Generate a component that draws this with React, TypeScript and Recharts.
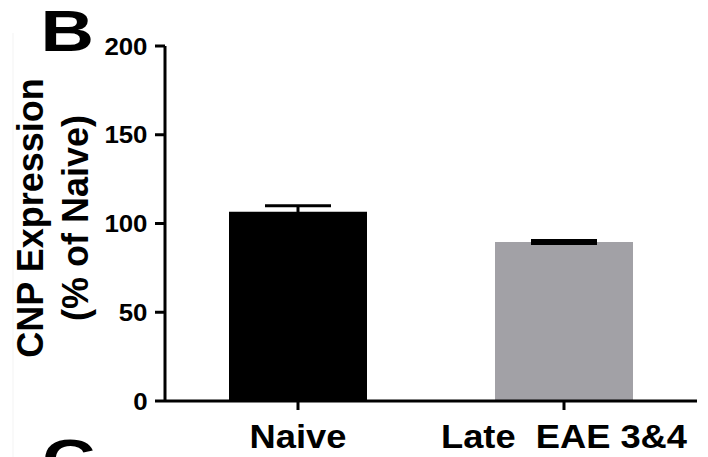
import React from 'react';
import { BarChart, Bar, XAxis, YAxis, ErrorBar, Cell } from 'recharts';

const categories = ['Naive', 'Late  EAE 3&4'];
const meanValues = [106.6, 89.6];
const semValues = [3.4, 0.8];
const barColors = ['#000000', '#a2a1a6'];
const yTicks = [0, 50, 100, 150, 200];

const data = categories.map((c, i) => ({ name: c, value: meanValues[i], err: semValues[i] }));

const FONT = '"Liberation Sans", Arial, Helvetica, sans-serif';

const YTick = (props: any) => {
  const { x, y, payload } = props;
  return (
    <g transform={`translate(${x - 1.5},${y + 8.5}) scale(1.1,1)`}>
      <text x={0} y={0} textAnchor="end" fontFamily={FONT} fontWeight="bold" fontSize={23.5} fill="#000">
        {payload.value}
      </text>
    </g>
  );
};

const XTick = (props: any) => {
  const { x, payload } = props;
  return (
    <g transform={`translate(${x},448) scale(1.1,1)`}>
      <text x={0} y={0} textAnchor="middle" fontFamily={FONT} fontWeight="bold" fontSize={33} fill="#000" style={{ whiteSpace: 'pre' }} xmlSpace="preserve">
        {payload.value}
      </text>
    </g>
  );
};

export default function App() {
  return (
    <div style={{ position: 'fixed', left: 0, top: 0, width: 708, height: 457, background: '#fff' }}>
      <BarChart width={708} height={457} data={data} margin={{ top: 46, right: 11, left: 0, bottom: 0 }}>
        <XAxis
          dataKey="name"
          height={56}
          axisLine={{ stroke: '#000', strokeWidth: 3 }}
          tickLine={{ stroke: '#000', strokeWidth: 3 }}
          tickSize={9}
          tick={<XTick />}
          interval={0}
        />
        <YAxis
          width={165}
          domain={[0, 200]}
          ticks={yTicks}
          allowDataOverflow
          axisLine={{ stroke: '#000', strokeWidth: 3 }}
          tickLine={{ stroke: '#000', strokeWidth: 3 }}
          tickSize={10}
          tickMargin={6}
          tick={<YTick />}
        />
        <Bar dataKey="value" barSize={138} isAnimationActive={false}>
          {data.map((d, i) => (
            <Cell key={d.name} fill={barColors[i]} />
          ))}
          <ErrorBar dataKey="err" width={33} stroke="#000" strokeWidth={3} direction="y" />
        </Bar>
      </BarChart>
      <svg width={708} height={457} style={{ position: 'absolute', left: 0, top: 0, pointerEvents: 'none' }}>
        <line x1={13} y1={33} x2={13} y2={457} stroke="#f3f3f3" strokeWidth={1} />
        <g transform="translate(40.6,51) scale(1.3,1)">
          <text x={0} y={0} fontFamily={FONT} fontWeight="bold" fontSize={57} fill="#000">B</text>
        </g>
        <g transform="translate(42,480) scale(1.3,1)">
          <text x={0} y={0} fontFamily={FONT} fontWeight="bold" fontSize={57} fill="#000">C</text>
        </g>
        <text transform="rotate(-90,43,218)" x={43} y={218} textAnchor="middle" fontFamily={FONT} fontWeight="bold" fontSize={36} fill="#000">
          CNP Expression
        </text>
        <text transform="rotate(-90,88,218)" x={88} y={218} textAnchor="middle" fontFamily={FONT} fontWeight="bold" fontSize={36} fill="#000">
          (% of Naive)
        </text>
      </svg>
    </div>
  );
}
